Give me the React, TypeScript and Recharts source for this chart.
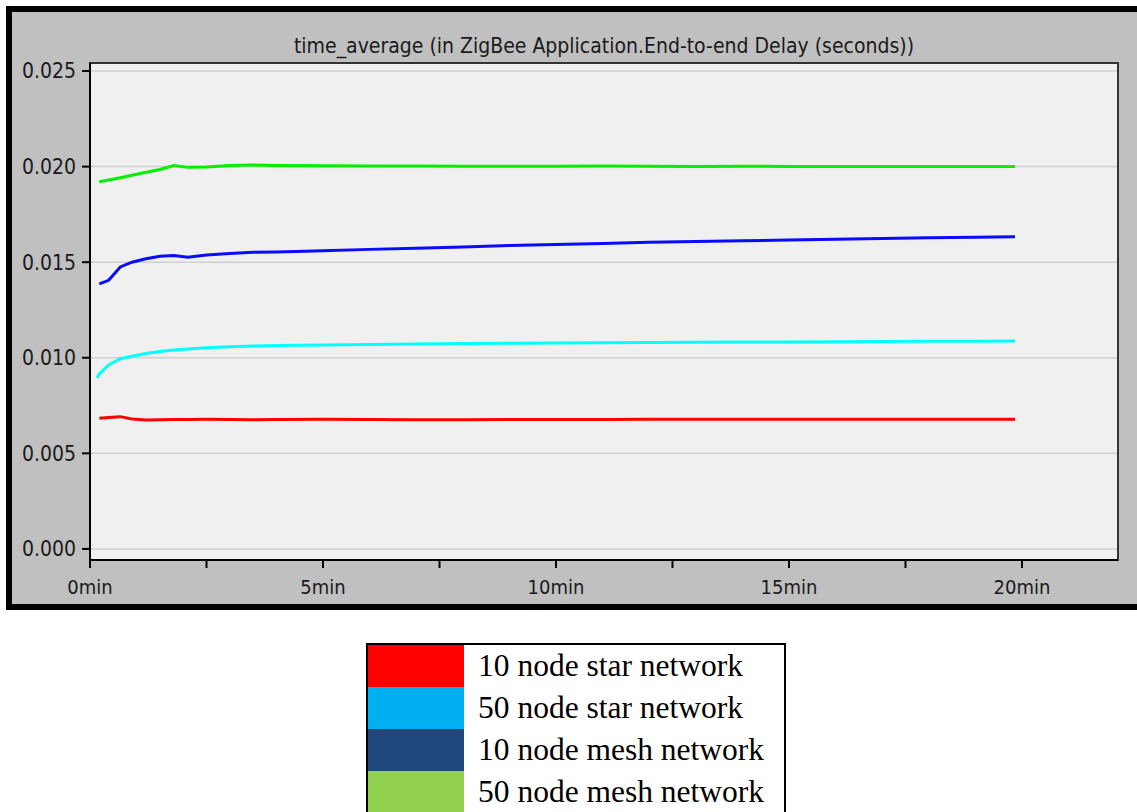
import {
  CartesianGrid,
  Line,
  LineChart,
  ReferenceArea,
  XAxis,
  YAxis,
} from "recharts";

const TITLE = "time_average (in ZigBee Application.End-to-end Delay (seconds))";

// sample times in minutes
const minutes = [
  0.15, 0.2, 0.4, 0.65, 0.9, 1.2, 1.5, 1.8, 2.1, 2.5, 3, 3.5, 4, 5, 6, 7, 8, 9, 10,
  11, 12, 13, 14, 15, 16, 17, 18, 19, 19.85,
];

const star10 = [
  null, 0.00684, 0.00688, 0.00692, 0.0068, 0.00675, 0.00676, 0.00677, 0.00677,
  0.00678, 0.00677, 0.00676, 0.00677, 0.00678, 0.00677, 0.00676, 0.00676, 0.00677,
  0.00677, 0.00677, 0.00678, 0.00678, 0.00678, 0.00678, 0.00678, 0.00678, 0.00678,
  0.00678, 0.00678,
];
const star50 = [
  0.00894, 0.00915, 0.00962, 0.00995, 0.01008, 0.01022, 0.01033, 0.01041, 0.01046,
  0.01053, 0.01057, 0.01061, 0.01064, 0.01067, 0.0107, 0.01072, 0.01074, 0.01076,
  0.01077, 0.01079, 0.0108, 0.01081, 0.01082, 0.01083, 0.01084, 0.01085, 0.01086,
  0.01087, 0.01088,
];
const mesh10 = [
  null, 0.01386, 0.01405, 0.01475, 0.015, 0.01518, 0.01531, 0.01535, 0.01526,
  0.01538, 0.01546, 0.01552, 0.01553, 0.0156, 0.01567, 0.01573, 0.0158, 0.01587,
  0.01593, 0.01598, 0.01604, 0.01608, 0.01612, 0.01616, 0.0162, 0.01624, 0.01628,
  0.01631, 0.01633,
];
const mesh50 = [
  null, 0.01921, 0.0193, 0.01942, 0.01955, 0.0197, 0.01985, 0.02006, 0.01996,
  0.01998, 0.02006, 0.02008, 0.02006, 0.02004, 0.02003, 0.02003, 0.02002, 0.02002,
  0.02002, 0.02003, 0.02002, 0.02001, 0.02002, 0.02001, 0.02001, 0.02001, 0.02001,
  0.02001, 0.02001,
];

const yTicks = [0, 0.005, 0.01, 0.015, 0.02, 0.025];
const xTicks = [0, 2.5, 5, 7.5, 10, 12.5, 15, 17.5, 20];
const X_MAX = 22.06;
const Y_MIN = -0.00058;
const Y_MAX = 0.02542;

const legendLabels = [
  "10 node star network",
  "50 node star network",
  "10 node mesh network",
  "50 node mesh network",
];
const legendColors = ["#ff0000", "#00b0f0", "#1f497d", "#92d050"];

const data = minutes.map((t, i) => ({
  t,
  star10: star10[i],
  star50: star50[i],
  mesh10: mesh10[i],
  mesh50: mesh50[i],
}));

const FONT = "'DejaVu Sans Condensed', 'Liberation Sans Narrow', Arial, sans-serif";
const xTickStyle = { fill: "#1a1a1a", fontSize: 20, fontFamily: FONT };
const yTickStyle = { fill: "#1a1a1a", fontSize: 21, fontFamily: FONT };

export default function App() {
  return (
    <div
      style={{
        position: "absolute",
        left: 0,
        top: 0,
        width: 1137,
        height: 812,
        background: "#fff",
        overflow: "hidden",
      }}
    >
      <div
        style={{
          position: "absolute",
          left: 6,
          top: 6,
          width: 1131,
          height: 604,
          boxSizing: "border-box",
          borderTop: "6px solid #000",
          borderLeft: "6px solid #000",
          borderBottom: "6px solid #000",
          background: "#c0c0c0",
        }}
      />
      <div
        style={{
          position: "absolute",
          left: 90,
          width: 1028,
          top: 34,
          textAlign: "center",
          fontFamily: FONT,
          fontSize: 21,
          color: "#1a1a1a",
          whiteSpace: "nowrap",
        }}
      >
        {TITLE}
      </div>
      <div style={{ position: "absolute", left: 0, top: 0 }}>
        <LineChart
          width={1137}
          height={612}
          data={data}
          margin={{ top: 63, right: 19, left: 10, bottom: 12 }}
        >
          <CartesianGrid
            vertical={false}
            stroke="#d0d0d0"
            strokeWidth={1.5}
            fill="#f0f0f0"
            fillOpacity={1}
          />
          <XAxis
            dataKey="t"
            type="number"
            domain={[0, X_MAX]}
            ticks={xTicks}
            interval={0}
            height={40}
            tickSize={8}
            tickMargin={12}
            tick={xTickStyle}
            stroke="#000"
            strokeWidth={2}
            tickFormatter={(v) => (v % 5 === 0 ? `${v}min` : "")}
          />
          <YAxis
            type="number"
            domain={[Y_MIN, Y_MAX]}
            ticks={yTicks}
            interval={0}
            width={80}
            tickSize={8}
            tickMargin={6}
            tick={yTickStyle}
            stroke="#000"
            strokeWidth={2}
            tickFormatter={(v) => Number(v).toFixed(3)}
          />
          <ReferenceArea
            x1={0}
            x2={X_MAX}
            y1={Y_MIN}
            y2={Y_MAX}
            fill="none"
            stroke="#333"
            strokeWidth={2}
          />
          <Line dataKey="star10" stroke="#ff0000" strokeWidth={3} dot={false} isAnimationActive={false} />
          <Line dataKey="star50" stroke="#00ffff" strokeWidth={3} dot={false} isAnimationActive={false} />
          <Line dataKey="mesh10" stroke="#0a0aff" strokeWidth={3} dot={false} isAnimationActive={false} />
          <Line dataKey="mesh50" stroke="#00f000" strokeWidth={3} dot={false} isAnimationActive={false} />
        </LineChart>
      </div>
      <div
        style={{
          position: "absolute",
          left: 366,
          top: 643,
          width: 420,
          boxSizing: "border-box",
          border: "2px solid #000",
          background: "#fff",
        }}
      >
        {legendLabels.map((label, i) => (
          <div key={label} style={{ display: "flex", height: 42, alignItems: "center" }}>
            <div style={{ width: 96, height: 42, background: legendColors[i] }} />
            <div
              style={{
                marginLeft: 14,
                fontFamily: "'Liberation Serif', 'Times New Roman', serif",
                fontSize: 31.5,
                color: "#000",
                whiteSpace: "nowrap",
              }}
            >
              {label}
            </div>
          </div>
        ))}
      </div>
    </div>
  );
}
